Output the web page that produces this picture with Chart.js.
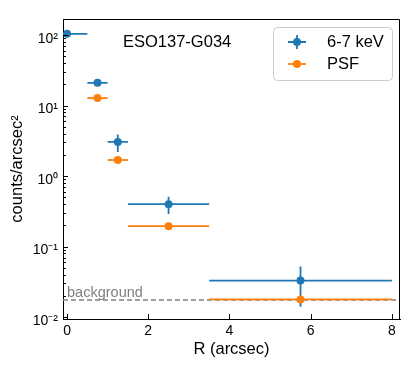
<!DOCTYPE html>
<html>
<head>
<meta charset="utf-8">
<script src="https://cdn.jsdelivr.net/npm/chart.js@4.4.1/dist/chart.umd.min.js"></script>
<style>
  html, body { margin: 0; padding: 0; background: #fff; }
  #wrap { width: 409px; height: 367px; }
</style>
</head>
<body>
<div id="wrap"><canvas id="profile" width="409" height="367"></canvas></div>
<script>
// radial profile, 6-7 keV band vs PSF
var chartTitle = 'ESO137-G034';
var binR = [0, 0.75, 1.25, 2.5, 5.75];
var binHalfWidth = [0.5, 0.25, 0.25, 1.0, 2.25];
var countsLine = [104, 21, 3.05, 0.40, 0.033];
var countsLineErr = [3, 1.2, 0.85, 0.11, 0.019];
var psfR = [0.75, 1.25, 2.5, 5.75];
var psfHalfWidth = [0.25, 0.25, 1.0, 2.25];
var countsPsf = [12.8, 1.69, 0.195, 0.0178];
var backgroundLevel = 0.0175;
var xTicks = [0, 2, 4, 6, 8];
var yTicks = [0.01, 0.1, 1, 10, 100];
var yTickLabels = ['10\u207B\u00B2', '10\u207B\u00B9', '10\u2070', '10\u00B9', '10\u00B2'];
var xRange = [-0.1, 8.2];
var yRange = [0.0094, 169];

var blue = '#1f77b4';
var orange = '#ff7f0e';
var font = '"Liberation Sans", Arial, sans-serif';
Chart.defaults.font.family = font;
Chart.defaults.color = '#000';

function points(xs, ys) {
    return xs.map(function (v, i) { return {x: v, y: ys[i]}; });
}

// error bars drawn under each dataset's markers
var errorBars = {
    id: 'errorBars',
    beforeDatasetDraw: function (chart, args) {
        var ds = chart.data.datasets[args.index];
        if (!ds.xErr) return;
        var ctx = chart.ctx, area = chart.chartArea, x = chart.scales.x, y = chart.scales.y;
        ctx.save();
        ctx.beginPath();
        ctx.rect(area.left, area.top, area.right - area.left, area.bottom - area.top);
        ctx.clip();
        ctx.strokeStyle = ds.borderColor;
        ctx.lineWidth = 1.8;
        ds.data.forEach(function (p, i) {
            var px = x.getPixelForValue(p.x), py = y.getPixelForValue(p.y);
            ctx.beginPath();
            ctx.moveTo(x.getPixelForValue(p.x - ds.xErr[i]), py);
            ctx.lineTo(x.getPixelForValue(p.x + ds.xErr[i]), py);
            if (ds.yErr && ds.yErr[i]) {
                ctx.moveTo(px, y.getPixelForValue(p.y - ds.yErr[i]));
                ctx.lineTo(px, y.getPixelForValue(p.y + ds.yErr[i]));
            }
            ctx.stroke();
        });
        ctx.restore();
    }
};

// frame, inward ticks, annotation text and legend box
var decorations = {
    id: 'decorations',
    afterDraw: function (chart) {
        var ctx = chart.ctx, area = chart.chartArea, x = chart.scales.x, y = chart.scales.y;
        ctx.save();
        ctx.strokeStyle = '#000';
        ctx.lineWidth = 1;
        ctx.beginPath();
        ctx.moveTo(Math.round(area.left) + 0.5, Math.round(area.top) + 0.5);
        ctx.lineTo(Math.round(area.right) - 0.5, Math.round(area.top) + 0.5);
        ctx.lineTo(Math.round(area.right) - 0.5, Math.round(area.bottom) + 0.5);
        ctx.stroke();

        ctx.beginPath();
        xTicks.forEach(function (v) {
            var px = Math.round(x.getPixelForValue(v)) + 0.5;
            ctx.moveTo(px, area.bottom);
            ctx.lineTo(px, area.bottom - 5);
        });
        yTicks.forEach(function (v) {
            var py = Math.round(y.getPixelForValue(v)) + 0.5;
            ctx.moveTo(area.left, py);
            ctx.lineTo(area.left + 5, py);
        });
        for (var d = -3; d <= 2; d++) {
            for (var m = 2; m <= 9; m++) {
                var v = m * Math.pow(10, d);
                if (v < y.min || v > y.max) continue;
                var py = Math.round(y.getPixelForValue(v)) + 0.5;
                ctx.moveTo(area.left, py);
                ctx.lineTo(area.left + 3, py);
            }
        }
        ctx.stroke();

        // background label
        var bg = chart.data.datasets[0];
        ctx.fillStyle = bg.borderColor;
        ctx.font = '14.5px ' + font;
        ctx.textBaseline = 'alphabetic';
        ctx.textAlign = 'left';
        ctx.fillText(bg.label, x.getPixelForValue(0), y.getPixelForValue(backgroundLevel) - 3);

        // source name
        ctx.fillStyle = '#000';
        ctx.font = '16.5px ' + font;
        ctx.textBaseline = 'middle';
        ctx.fillText(chartTitle, 123, area.top + 23);

        // legend
        var lx = area.right - 127, ly = area.top + 8, lw = 119, lh = 53;
        ctx.beginPath();
        ctx.roundRect(lx + 0.5, ly + 0.5, lw, lh, 4);
        ctx.fillStyle = 'rgba(255,255,255,0.8)';
        ctx.fill();
        ctx.strokeStyle = '#cccccc';
        ctx.stroke();
        [chart.data.datasets[1], chart.data.datasets[2]].forEach(function (ds, i) {
            var cy = ly + 15 + i * 22, cx = lx + 24;
            ctx.strokeStyle = ds.borderColor;
            ctx.fillStyle = ds.borderColor;
            ctx.lineWidth = 1.8;
            ctx.beginPath();
            ctx.moveTo(cx - 9, cy);
            ctx.lineTo(cx + 9, cy);
            if (ds.yErr) {
                ctx.moveTo(cx, cy - 7);
                ctx.lineTo(cx, cy + 7);
            }
            ctx.stroke();
            ctx.beginPath();
            ctx.arc(cx, cy, 4, 0, Math.PI * 2);
            ctx.fill();
            ctx.fillStyle = '#000';
            ctx.font = '16.5px ' + font;
            ctx.textBaseline = 'middle';
            ctx.fillText(ds.label, lx + 54, cy);
        });
        ctx.restore();
    }
};

new Chart(document.getElementById('profile'), {
    type: 'scatter',
    data: {
        datasets: [{
            label: 'background',
            type: 'line',
            data: points(xRange, [backgroundLevel, backgroundLevel]),
            borderColor: '#808080',
            borderWidth: 1.5,
            borderDash: [5, 3],
            pointRadius: 0,
            order: 3
        }, {
            label: '6-7 keV',
            data: points(binR, countsLine),
            xErr: binHalfWidth,
            yErr: countsLineErr,
            backgroundColor: blue,
            borderColor: blue,
            pointRadius: 4,
            pointBorderWidth: 0,
            order: 2
        }, {
            label: 'PSF',
            data: points(psfR, countsPsf),
            xErr: psfHalfWidth,
            backgroundColor: orange,
            borderColor: orange,
            pointRadius: 4,
            pointBorderWidth: 0,
            order: 1
        }]
    },
    options: {
        responsive: false,
        animation: false,
        layout: { padding: { top: 19, right: 9, bottom: 0, left: 0 } },
        plugins: { legend: { display: false }, tooltip: { enabled: false } },
        scales: {
            x: {
                type: 'linear',
                min: xRange[0],
                max: xRange[1],
                afterBuildTicks: function (scale) {
                    scale.ticks = xTicks.map(function (v) { return {value: v}; });
                },
                afterFit: function (scale) { scale.height = 48; },
                grid: { drawOnChartArea: false, drawTicks: false },
                border: { color: '#000', width: 1 },
                ticks: { font: { size: 14 }, padding: 4, maxRotation: 0 },
                title: { display: true, text: 'R (arcsec)', font: { size: 16.5 }, padding: { top: 8, bottom: 8 } }
            },
            y: {
                type: 'logarithmic',
                min: yRange[0],
                max: yRange[1],
                afterBuildTicks: function (scale) {
                    scale.ticks = yTicks.map(function (v) { return {value: v}; });
                },
                afterFit: function (scale) { scale.width = 63; },
                grid: { drawOnChartArea: false, drawTicks: false },
                border: { color: '#000', width: 1 },
                ticks: {
                    font: { size: 14 },
                    padding: 5,
                    labelOffset: 4,
                    callback: function (value, index) { return yTickLabels[index]; }
                },
                title: { display: true, text: 'counts/arcsec\u00B2', font: { size: 16.5 }, padding: { top: 8, bottom: 8 } }
            }
        }
    },
    plugins: [errorBars, decorations]
});
</script>
</body>
</html>
